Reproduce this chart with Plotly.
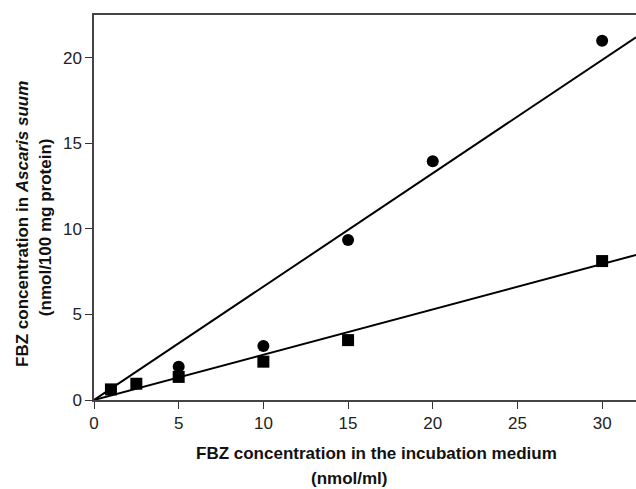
import plotly.graph_objects as go

# Data
circle_x = [5, 10, 15, 20, 30]
circle_y = [1.95, 3.15, 9.35, 13.95, 21.0]
square_x = [1, 2.5, 5, 10, 15, 30]
square_y = [0.62, 0.95, 1.35, 2.24, 3.5, 8.12]
fit_x = [0, 32]
upper_fit_y = [0, 21.2]
lower_fit_y = [0, 8.47]
x_ticks = [0, 5, 10, 15, 20, 25, 30]
y_ticks = [0, 5, 10, 15, 20]

x_title_lines = ["FBZ concentration in the incubation medium", "(nmol/ml)"]
y_title_lines = ["FBZ concentration in <i>Ascaris suum</i>", "(nmol/100 mg protein)"]

fig = go.Figure()
fig.add_trace(go.Scatter(x=fit_x, y=upper_fit_y, mode="lines",
                         line=dict(color="black", width=2), showlegend=False))
fig.add_trace(go.Scatter(x=fit_x, y=lower_fit_y, mode="lines",
                         line=dict(color="black", width=2), showlegend=False))
fig.add_trace(go.Scatter(x=circle_x, y=circle_y, mode="markers",
                         marker=dict(symbol="circle", size=12, color="black"),
                         showlegend=False, cliponaxis=False))
fig.add_trace(go.Scatter(x=square_x, y=square_y, mode="markers",
                         marker=dict(symbol="square", size=12, color="black"),
                         showlegend=False, cliponaxis=False))

font_family = "Liberation Sans, Arial, sans-serif"
title_font = dict(family=font_family, size=17, color="#111")

annotations = [
    dict(text="<b>" + x_title_lines[0] + "</b>", xref="paper", yref="paper",
         x=0.522, y=-0.140, showarrow=False, xanchor="center", yanchor="middle", font=title_font),
    dict(text="<b>" + x_title_lines[1] + "</b>", xref="paper", yref="paper",
         x=0.472, y=-0.2026, showarrow=False, xanchor="center", yanchor="middle", font=title_font),
    dict(text="<b>" + y_title_lines[0] + "</b>", xref="paper", yref="paper",
         x=-0.133, y=0.457, showarrow=False, xanchor="center", yanchor="middle",
         textangle=-90, font=title_font),
    dict(text="<b>" + y_title_lines[1] + "</b>", xref="paper", yref="paper",
         x=-0.0904, y=0.449, showarrow=False, xanchor="center", yanchor="middle",
         textangle=-90, font=title_font),
]

fig.update_layout(
    width=636, height=489,
    margin=dict(l=94, r=0, t=15, b=89),
    paper_bgcolor="white", plot_bgcolor="white",
    font=dict(family=font_family, color="black", size=17),
    annotations=annotations,
    xaxis=dict(
        range=[0, 32], tickvals=x_ticks, ticks="outside", ticklen=7, tickwidth=1,
        tickcolor="#333", showline=True, linecolor="#444", linewidth=1.5,
        mirror=True, showgrid=False, zeroline=False,
        tickfont=dict(size=17, color="#222"),
    ),
    yaxis=dict(
        range=[0, 22.5], tickvals=y_ticks, ticks="outside", ticklen=7, tickwidth=1,
        tickcolor="#333", showline=True, linecolor="#444", linewidth=1.5,
        showgrid=False, zeroline=False,
        tickfont=dict(size=17, color="#222"),
    ),
)

fig.write_html("out.html")
